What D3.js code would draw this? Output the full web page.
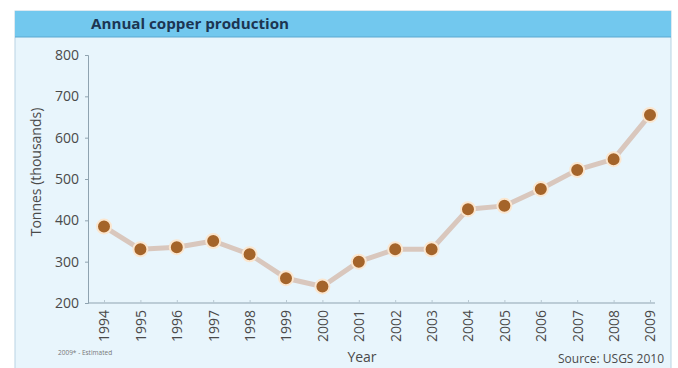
<!DOCTYPE html>
<html><head><meta charset="utf-8">
<script src="https://cdn.jsdelivr.net/npm/d3@7"></script>
<style>body{margin:0;background:#fff}svg{display:block}text{font-family:"Open Sans","Noto Sans",sans-serif}</style>
</head><body>
<svg id="c" width="678" height="368"></svg>
<script>
const years = ["1994","1995","1996","1997","1998","1999","2000","2001","2002","2003","2004","2005","2006","2007","2008","2009"];
const production = [385,330,335,350,318,260,240,300,330,330,427,435,476,522,548,655];
const yTicks = [200,300,400,500,600,700,800];

const svg = d3.select("#c");
svg.append("rect").attr("x",15).attr("y",11).attr("width",656).attr("height",360)
  .attr("fill","#e8f5fc").attr("stroke","#b9d3e3");
svg.append("rect").attr("x",15).attr("y",11).attr("width",656).attr("height",26).attr("fill","#72c8ee");
svg.append("line").attr("x1",15).attr("x2",671).attr("y1",37).attr("y2",37).attr("stroke","#5aa9d0");
svg.append("text").attr("x",91).attr("y",29).attr("font-size",14.5).attr("font-weight","bold")
  .attr("fill","#1c3552").attr("textLength",198).attr("lengthAdjust","spacingAndGlyphs").text("Annual copper production");

const x = d3.scalePoint().domain(years).range([104,650]);
const y = d3.scaleLinear().domain([200,800]).range([303,55]);

const ya = svg.append("g").attr("transform","translate(88,0)")
  .call(d3.axisLeft(y).tickValues(yTicks).tickSize(3).tickPadding(6));
ya.select(".domain").attr("stroke","#8fa3b0");
ya.selectAll(".tick line").attr("stroke","#8fa3b0");
ya.selectAll("text").attr("font-size",14).attr("fill","#4a4a4a").attr("font-family","'Open Sans',sans-serif");

const xa = svg.append("g").attr("transform","translate(0,303)")
  .call(d3.axisBottom(x).tickSize(-3).tickPadding(6).tickSizeOuter(0));
xa.select(".domain").attr("stroke","#8fa3b0").attr("d","M88,0H655");
xa.selectAll(".tick line").attr("stroke","#b8c8d2");
xa.selectAll("text").attr("font-size",14).attr("fill","#4a4a4a").attr("font-family","'Open Sans',sans-serif")
  .attr("transform","rotate(-90)").attr("text-anchor","end").attr("dx","-7").attr("dy","0.35em").attr("x",0).attr("y",0);

svg.append("text").attr("transform","translate(41,172) rotate(-90)").attr("text-anchor","middle")
  .attr("font-size",14).attr("fill","#4a4a4a").text("Tonnes (thousands)");
svg.append("text").attr("x",362).attr("y",362).attr("text-anchor","middle")
  .attr("font-size",14).attr("fill","#4a4a4a").text("Year");
svg.append("text").attr("x",664).attr("y",363).attr("text-anchor","end")
  .attr("font-size",12).attr("fill","#4a4a4a").text("Source: USGS  2010");
svg.append("text").attr("x",58).attr("y",355)
  .attr("font-size",6.5).attr("fill","#777").text("2009* - Estimated");

const line = d3.line().x((d,i)=>x(years[i])).y(d=>y(d));
svg.append("path").datum(production).attr("d",line).attr("fill","none")
  .attr("stroke","#d9c7bd").attr("stroke-width",5).attr("stroke-linejoin","round");
svg.append("g").selectAll("circle").data(production).join("circle")
  .attr("cx",(d,i)=>x(years[i])).attr("cy",d=>y(d)).attr("r",7)
  .attr("fill","#a4642a").attr("stroke","#fbe6cf").attr("stroke-width",2);
</script>
</body></html>
